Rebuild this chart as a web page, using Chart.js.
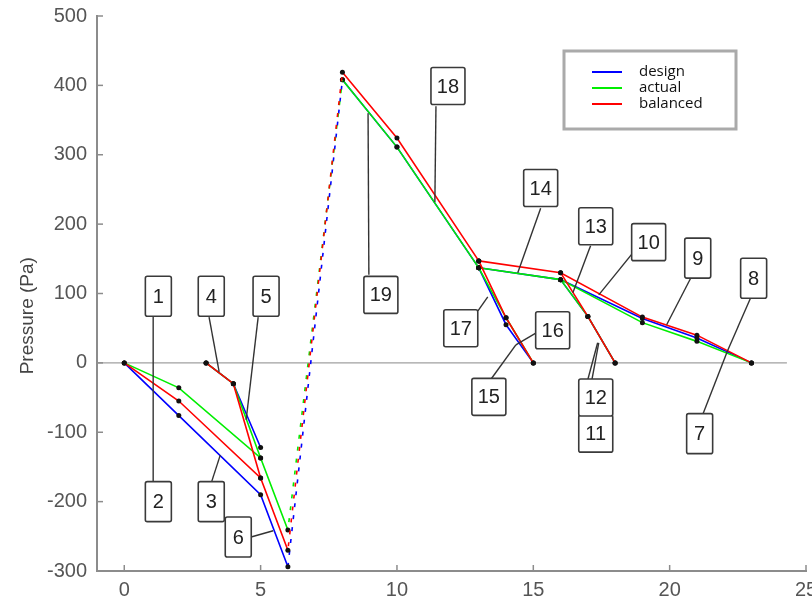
<!DOCTYPE html>
<html>
<head>
<title>Pressure diagram</title>
<script src="https://cdn.jsdelivr.net/npm/chart.js"></script>
<style>
  html, body { margin: 0; padding: 0; background: #fff; }
  #wrap { width: 812px; height: 605px; }
</style>
</head>
<body>
<div id="wrap"><canvas id="pressureChart"></canvas></div>
<script>
// series
const seriesNames = ['design', 'actual', 'balanced'];
const seriesColors = ['#0000ff', '#00ee00', '#ff0000'];
const yTitle = 'Pressure (Pa)';

// node positions along each duct path
const pathMainX = [0, 2, 5, 6];
const pathBranch45X = [3, 4, 5];
const pathFanX = [6, 8];
const pathRiseX = [8, 10, 13];
const pathLongX = [13, 16, 19, 21, 23];
const pathBranch15X = [13, 14, 15];
const pathBranch12X = [16, 17, 18];

// pressures (Pa): [design, actual, balanced]
const pathMainY = [[0, -76, -190, -294], [0, -36, -137, -241], [0, -55, -166, -270]];
const pathBranch45Y = [[0, -30, -122], [0, -30, -137], [0, -30, -166]];
const pathFanY = [[-294, 408], [-241, 408], [-270, 419]];
const pathRiseY = [[408, 311, 137], [408, 311, 137], [419, 324, 147]];
const pathLongY = [[137, 120, 64, 36, 0], [137, 120, 58, 31, 0], [147, 130, 66, 40, 0]];
const pathBranch15Y = [[137, 55, 0], [137, 65, 0], [147, 65, 0]];
const pathBranch12Y = [[120, 67, 0], [120, 67, 0], [130, 67, 0]];

// axis ticks
const xTicks = [0, 5, 10, 15, 20, 25];
const yTicks = [-300, -200, -100, 0, 100, 200, 300, 400, 500];

// segment labels (box centre, in data units) and leader lines
const segLabels = ['1', '2', '3', '4', '5', '6', '7', '8', '9', '10', '11', '12', '13', '14', '15', '16', '17', '18', '19'];
const labelX = [1.25, 1.25, 3.19, 3.19, 5.2, 4.18, 21.1, 23.08, 21.03, 19.23, 17.29, 17.29, 17.29, 15.27, 13.37, 15.71, 12.34, 11.87, 9.41];
const labelY = [96, -200, -200, 96, 96, -251, -102, 122, 151, 174, -102, -50, 197, 252, -49, 47, 50, 399, 98];
const leaders = [
  [1.06, 66, 1.06, -39], [1.06, -173, 1.06, -39],
  [3.19, -173, 3.52, -133], [3.11, 66, 3.48, -13],
  [4.91, 66, 4.47, -82], [4.65, -251, 5.46, -242],
  [21.2, -76, 22.12, 17], [22.97, 94, 22.12, 17],
  [20.77, 122, 19.89, 55], [18.68, 160, 17.4, 98],
  [17.0, -24, 17.36, 29], [17.15, -24, 17.4, 29],
  [17.1, 169, 16.45, 101], [15.27, 223, 14.43, 130],
  [13.44, -24, 14.36, 26], [15.09, 43, 14.36, 26],
  [12.97, 75, 13.33, 95], [11.43, 370, 11.39, 232],
  [8.97, 127, 8.94, 360]
];

const paths = [
  { xs: pathMainX, ys: pathMainY, dashed: false },
  { xs: pathBranch45X, ys: pathBranch45Y, dashed: false },
  { xs: pathFanX, ys: pathFanY, dashed: true },
  { xs: pathRiseX, ys: pathRiseY, dashed: false },
  { xs: pathLongX, ys: pathLongY, dashed: false },
  { xs: pathBranch15X, ys: pathBranch15Y, dashed: false },
  { xs: pathBranch12X, ys: pathBranch12Y, dashed: false }
];

// blue drawn first, then green, then red on top
const drawOrder = [3, 2, 1];
const datasets = [];
paths.forEach(p => {
  seriesNames.forEach((name, s) => {
    datasets.push({
      label: name,
      data: p.xs.map((x, i) => ({ x: x, y: p.ys[s][i] })),
      showLine: true,
      borderColor: seriesColors[s],
      borderWidth: 1.6,
      borderDash: p.dashed ? [4, 8] : [],
      borderDashOffset: p.dashed ? s * 4 : 0,
      pointRadius: p.dashed ? 0 : 2.5,
      pointBackgroundColor: '#111',
      pointBorderWidth: 0,
      order: drawOrder[s]
    });
  });
});
// zero reference line
datasets.push({
  label: 'zero',
  data: [{ x: -1, y: 0 }, { x: 24.3, y: 0 }],
  showLine: true,
  borderColor: '#a0a0a0',
  borderWidth: 1.2,
  pointRadius: 0,
  order: 10
});

const gray = '#8c8c8c';

const decorPlugin = {
  id: 'decor',
  afterDraw(chart) {
    const ctx = chart.ctx;
    const xs = chart.scales.x, ys = chart.scales.y;
    const area = chart.chartArea;
    ctx.save();
    // inward ticks
    ctx.strokeStyle = gray;
    ctx.lineWidth = 1.5;
    xTicks.forEach(v => {
      const px = xs.getPixelForValue(v);
      ctx.beginPath(); ctx.moveTo(px, area.bottom); ctx.lineTo(px, area.bottom - 6); ctx.stroke();
    });
    yTicks.forEach(v => {
      const py = ys.getPixelForValue(v);
      ctx.beginPath(); ctx.moveTo(area.left, py); ctx.lineTo(area.left + 6, py); ctx.stroke();
    });
    // y axis title
    ctx.save();
    ctx.translate(28, ys.getPixelForValue(68));
    ctx.rotate(-Math.PI / 2);
    ctx.font = '19px "Liberation Sans", Arial, sans-serif';
    ctx.fillStyle = '#444';
    ctx.textAlign = 'center';
    ctx.textBaseline = 'middle';
    ctx.fillText(yTitle, 0, 0);
    ctx.restore();
    // leader lines
    ctx.strokeStyle = '#333';
    ctx.lineWidth = 1.4;
    leaders.forEach(l => {
      ctx.beginPath();
      ctx.moveTo(xs.getPixelForValue(l[0]), ys.getPixelForValue(l[1]));
      ctx.lineTo(xs.getPixelForValue(l[2]), ys.getPixelForValue(l[3]));
      ctx.stroke();
    });
    // label boxes
    ctx.font = '20px "Liberation Sans", Arial, sans-serif';
    ctx.textAlign = 'center';
    ctx.textBaseline = 'middle';
    segLabels.forEach((t, i) => {
      const cx = xs.getPixelForValue(labelX[i]);
      const cy = ys.getPixelForValue(labelY[i]);
      const w = t.length > 1 ? 34 : 26;
      const h = t.length > 1 ? 37 : 40;
      ctx.fillStyle = '#fff';
      ctx.strokeStyle = '#3a3a3a';
      ctx.lineWidth = 1.6;
      ctx.beginPath();
      ctx.roundRect(cx - w / 2, cy - h / 2, w, h, 2);
      ctx.fill();
      ctx.stroke();
      ctx.fillStyle = '#222';
      ctx.fillText(t, cx, cy + 1);
    });
    // legend box
    const lx = area.right - 242, ly = area.top + 35;
    ctx.fillStyle = '#fff';
    ctx.strokeStyle = '#aaa';
    ctx.lineWidth = 3;
    ctx.fillRect(lx, ly, 172, 78);
    ctx.strokeRect(lx, ly, 172, 78);
    ctx.font = '15px "Open Sans", "Liberation Sans", sans-serif';
    ctx.textAlign = 'left';
    seriesNames.forEach((name, s) => {
      const yy = ly + 21 + s * 16;
      ctx.strokeStyle = seriesColors[s];
      ctx.lineWidth = 2;
      ctx.beginPath(); ctx.moveTo(lx + 28, yy); ctx.lineTo(lx + 58, yy); ctx.stroke();
      ctx.fillStyle = '#111';
      ctx.fillText(name, lx + 75, yy);
    });
    ctx.restore();
  }
};

new Chart(document.getElementById('pressureChart').getContext('2d'), {
  type: 'scatter',
  data: { datasets: datasets },
  options: {
    responsive: true,
    maintainAspectRatio: false,
    animation: false,
    layout: { padding: { top: 16, right: 6, left: 0, bottom: 0 } },
    plugins: { legend: { display: false }, tooltip: { enabled: false } },
    scales: {
      x: {
        type: 'linear',
        min: -1,
        max: 25,
        afterBuildTicks: scale => { scale.ticks = xTicks.map(v => ({ value: v })); },
        afterFit: scale => { scale.height = 34; scale.paddingLeft = 0; scale.paddingRight = 0; },
        grid: { display: true, drawOnChartArea: false, drawTicks: false },
        border: { color: gray, width: 2 },
        ticks: { color: '#555', padding: 7, maxRotation: 0, font: { family: 'Liberation Sans', size: 20 } }
      },
      y: {
        type: 'linear',
        min: -300,
        max: 500,
        afterBuildTicks: scale => { scale.ticks = yTicks.map(v => ({ value: v })); },
        afterFit: scale => { scale.width = 97; scale.paddingTop = 0; scale.paddingBottom = 0; },
        grid: { display: true, drawOnChartArea: false, drawTicks: false },
        border: { color: gray, width: 2 },
        ticks: { color: '#555', padding: 10, font: { family: 'Liberation Sans', size: 20 } }
      }
    }
  },
  plugins: [decorPlugin]
});
</script>
</body>
</html>
